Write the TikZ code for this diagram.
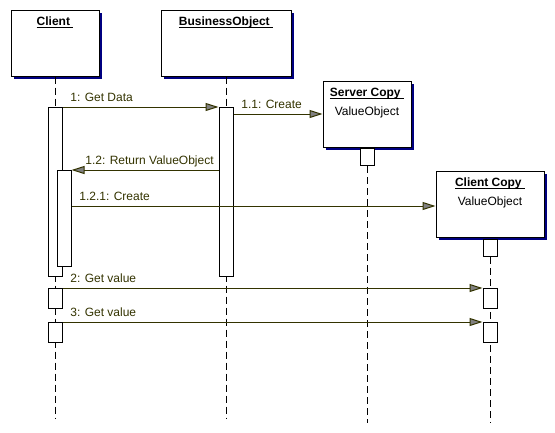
\documentclass[tikz,border=0pt]{standalone}
\usepackage{fontspec}
\setmainfont{Liberation Sans}
\usetikzlibrary{arrows.meta,shadows}
\definecolor{msgline}{RGB}{51,51,0}
\definecolor{shadowblue}{RGB}{0,0,128}
\definecolor{tipgray}{RGB}{128,128,128}
\newcommand{\objtitle}[1]{\underline{\smash{#1}\ }}
\begin{document}
\begin{tikzpicture}[x=1pt,y=-1pt,line width=1pt,font=\fontsize{12}{14}\selectfont,
  objbox/.style={draw=black,fill=white,minimum height=66pt,inner sep=0pt,
    drop shadow={shadow xshift=3pt,shadow yshift=-3pt,fill=shadowblue,opacity=1}},
  objname/.style={anchor=base,font=\fontsize{12}{14}\selectfont\bfseries},
  objtype/.style={anchor=base},
  actbar/.style={draw=black,fill=white,minimum width=14pt,inner sep=0pt,anchor=north},
  lifeline/.style={draw=black,dash pattern=on 7pt off 4pt},
  msg/.style={draw=msgline,-{Triangle[length=13pt,width=8pt,fill=tipgray]}},
  msglabel/.style={text=msgline,anchor=base west,xshift=4pt,yshift=6pt}]
  \useasboundingbox (0,0) rectangle (555,432);
  \node[objbox,minimum width=88pt] (client) at (55,43) {};
  \node[objbox,minimum width=130pt] (bizobj) at (226,43) {};
  \node[objbox,minimum width=88pt] (srvcopy) at (367,114) {};
  \node[objbox,minimum width=108pt] (clicopy) at (490,204) {};
  \node[objname] at ([yshift=-16pt]client.north) {\objtitle{Client}};
  \node[objname] at ([yshift=-16pt]bizobj.north) {\objtitle{BusinessObject}};
  \node[objname] at ([yshift=-16pt]srvcopy.north) {\objtitle{Server Copy}};
  \node[objtype] at ([yshift=-35pt]srvcopy.north) {ValueObject};
  \node[objname] at ([yshift=-16pt]clicopy.north) {\objtitle{Client Copy}};
  \node[objtype] at ([yshift=-35pt]clicopy.north) {ValueObject};
  \node[actbar,minimum height=17pt] (srvbar) at (367,148) {};
  \node[actbar,minimum height=17pt] (clibar) at (490,239) {};
  \coordinate (clientend) at (55,418);
  \coordinate (bizend) at (226,418);
  \coordinate (srvend) at (367,423);
  \coordinate (cliend) at (490,423);
  \draw[lifeline] (client.south) -- (clientend);
  \draw[lifeline] (bizobj.south) -- (bizend);
  \draw[lifeline] (srvbar.south) -- (srvend);
  \draw[lifeline] (clibar.south) -- (cliend);
  \node[actbar,minimum height=169pt] (clientbar) at (55,107) {};
  \node[actbar,minimum height=96pt] (clientinner) at (64,170) {};
  \node[actbar,minimum height=169pt] (bizbar) at (226,107) {};
  \node[actbar,minimum height=20pt] (clientget1) at (55,288) {};
  \node[actbar,minimum height=20pt] (copyget1) at (490,288) {};
  \node[actbar,minimum height=20pt] (clientget2) at (55,322) {};
  \node[actbar,minimum height=20pt] (copyget2) at (490,322) {};
  \coordinate (create121) at ([yshift=-2pt]clicopy.west);
  \draw[msg] (clientbar.north east) -- node[msglabel,pos=0] {1: Get Data} (bizbar.north west);
  \draw[msg] ([yshift=-7pt]bizbar.north east) -- node[msglabel,pos=0] {1.1: Create} (srvcopy.west);
  \draw[msg] (bizbar.west |- clientinner.north) -- node[msglabel,pos=1,xshift=6pt] {1.2: Return ValueObject} (clientinner.north east);
  \draw[msg] (clientinner.east |- create121) -- node[msglabel,pos=0] {1.2.1: Create} (create121);
  \draw[msg] (clientget1.north east) -- node[msglabel,pos=0] {2: Get value} (copyget1.north west);
  \draw[msg] (clientget2.north east) -- node[msglabel,pos=0] {3: Get value} (copyget2.north west);
\end{tikzpicture}
\end{document}
